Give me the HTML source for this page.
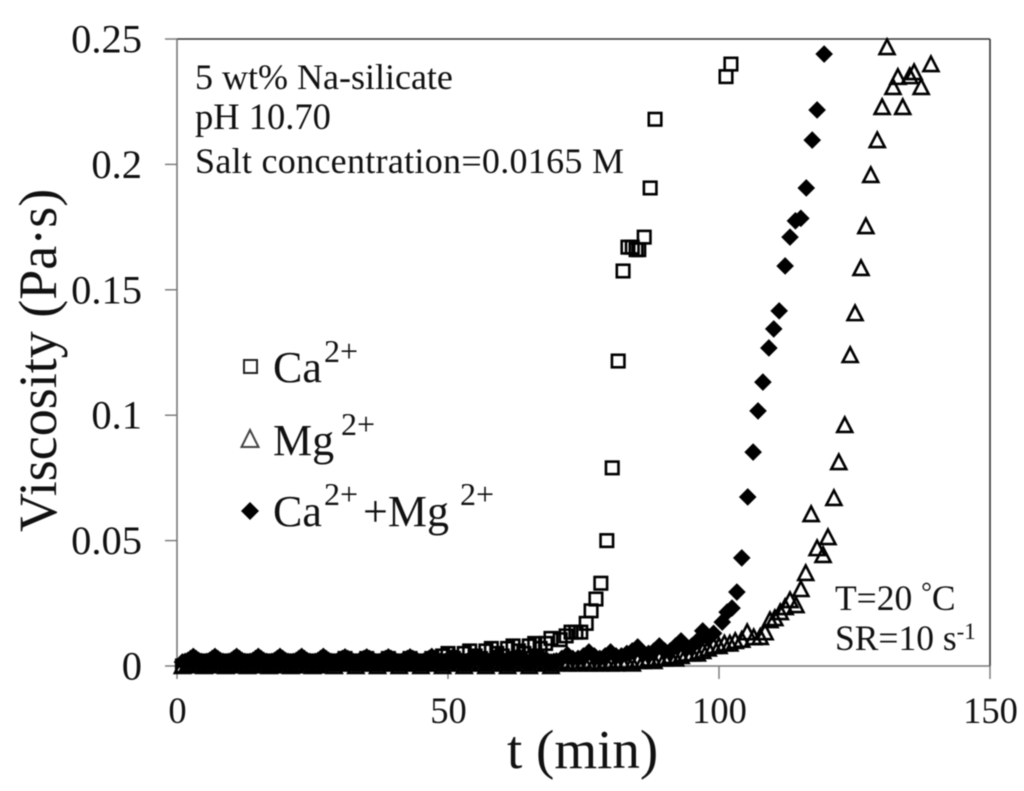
<!DOCTYPE html>
<html lang="en">
<head>
<meta charset="utf-8">
<title>Viscosity vs time</title>
<style>
html,body{margin:0;padding:0;background:#fff;width:1024px;height:791px;overflow:hidden}
svg{display:block;filter:blur(0.4px)}
text{font-family:"Liberation Serif",serif;fill:#111}
</style>
</head>
<body>
<svg id="chart" width="1024" height="791" viewBox="0 0 1024 791" xmlns="http://www.w3.org/2000/svg">
  <rect width="1024" height="791" fill="#fff"/>
  <g id="axes"></g>
  <g id="marks"></g>
  <g font-size="36">
    <text x="195" y="89">5 wt% Na-silicate</text>
    <text x="195" y="129" font-size="36.5">pH 10.70</text>
    <text x="195" y="173" textLength="429">Salt concentration=0.0165 M</text>
  </g>
  <g font-size="35.5">
    <text x="835" y="610">T=20 <tspan font-size="27" dy="-9">°</tspan><tspan dy="9">C</tspan></text>
    <text x="835" y="650">SR=10 s<tspan font-size="23" dy="-11">-1</tspan></text>
  </g>
  <g>
    <rect x="244" y="360" width="13" height="13" fill="none" stroke="#222" stroke-width="2"/>
    <text x="273" y="382" font-size="44">Ca</text>
    <text x="324" y="362" font-size="32">2+</text>
    <path d="M250 430 L258.500 447 L241.500 447 Z" fill="none" stroke="#444" stroke-width="2"/>
    <text x="273" y="455" font-size="44">Mg</text>
    <text x="341" y="435" font-size="32">2+</text>
    <path d="M250 502 L259 511 L250 520 L241 511 Z" fill="#000"/>
    <text x="273" y="526" font-size="44">Ca</text>
    <text x="324" y="505" font-size="32">2+</text>
    <text x="363" y="526" font-size="44">+Mg</text>
    <text x="460" y="505" font-size="32">2+</text>
  </g>
  <text x="507" y="768" font-size="55">t (min)</text>
  <text transform="translate(56,532) rotate(-90)" font-size="54">Viscosity (Pa·s)</text>
</svg>
<script>
const xTicks = [0, 50, 100, 150];
const yTicks = [0, 0.05, 0.1, 0.15, 0.2, 0.25];
const yTickLabels = ["0", "0.05", "0.1", "0.15", "0.2", "0.25"];

const caTime = [1,2,3,4,5,6,7,8,9,10,11,12,13,14,15,16,17,18,19,20,21,22,23,24,25,26,27,28,29,30,31,32,33,34,35,36,37,38,39,40,41,42,43,44,45,46,47,48,49,50,51,52,53,54,55,56,57,58,59,60,61,62,63,64,65,66,67,68,69,70.7,71.8,72.7,73.6,74.5,75.5,76.4,77.3,78.2,79.3,80.3,81.4,82.3,83.2,84,84.7,85.2,86.2,87.3,88.2,101.3,102.2];
const caVisc = [0,0,0.002,0.002,0,0,0.002,0.002,0,0,0.002,0.002,0,0,0.002,0.002,0,0,0.002,0.002,0,0,0.002,0.002,0,0,0.002,0.002,0.001,0.001,0.003,0.002,0.001,0.001,0.003,0.002,0.001,0.001,0.003,0.002,0.001,0.001,0.003,0.002,0.001,0.001,0.003,0.002,0.004,0.005,0.003,0.002,0.005,0.006,0.004,0.003,0.006,0.007,0.005,0.004,0.007,0.008,0.006,0.005,0.008,0.009,0.007,0.009,0.011,0.0105,0.012,0.0135,0.0135,0.0135,0.017,0.022,0.0267,0.033,0.05,0.079,0.1216,0.1575,0.167,0.167,0.166,0.166,0.171,0.1906,0.218,0.235,0.24];

const mgTime = [1,2,3,4,5,6,7,8,9,10,11,12,13,14,15,16,17,18,19,20,21,22,23,24,25,26,27,28,29,30,31,32,33,34,35,36,37,38,39,40,41,42,43,44,45,46,47,48,49,50,51,52,53,54,55,56,57,58,59,60,61,62,63,64,65,66,67,68,69,70,71,72,73,74,75,76,77,78,79,80,81,82,83,84,85,86,87,88,89,90,91,92,93,94,95,96,97,98,99,100,101,102,103,104.2,105.2,106.4,107.6,108.5,109.4,110.3,111.3,112.2,113.1,114.2,115.1,116,117,118.1,119.2,120.1,121.2,122.1,123.2,124.2,125.1,126.2,127.1,128,129.2,130.1,131,132.1,133,133.9,135.2,136,137.3,139.1];
const mgVisc = [0,0.001,0.002,0.001,0,0.001,0.002,0.001,0,0.001,0.002,0.001,0,0.001,0.002,0.001,0,0.001,0.002,0.001,0,0.001,0.002,0.001,0,0.001,0.002,0.001,0,0.001,0.002,0.001,0,0.001,0.002,0.001,0,0.001,0.002,0.001,0,0.001,0.002,0.001,0,0.001,0.002,0.001,0,0.001,0.002,0.001,0,0.001,0.002,0.001,0,0.001,0.002,0.001,0,0.001,0.002,0.001,0,0.001,0.002,0.001,0,0.001,0.002,0.001,0.001,0.001,0.002,0.001,0.001,0.001,0.002,0.001,0.001,0.002,0.002,0.001,0.002,0.002,0.003,0.002,0.003,0.003,0.004,0.003,0.004,0.005,0.005,0.005,0.006,0.007,0.008,0.008,0.009,0.009,0.010,0.0105,0.0135,0.0115,0.0116,0.0135,0.0183,0.0191,0.0215,0.0235,0.0263,0.0243,0.0307,0.0371,0.0606,0.047,0.0443,0.0514,0.067,0.0813,0.0961,0.124,0.1407,0.1587,0.1754,0.1958,0.2097,0.2229,0.2468,0.2309,0.2349,0.2229,0.2352,0.2368,0.2309,0.24];

const mixTime = [1,1.5,2,2.5,3,3.5,4,4.5,5,5.5,6,6.5,7,7.5,8,8.5,9,9.5,10,10.5,11,11.5,12,12.5,13,13.5,14,14.5,15,15.5,16,16.5,17,17.5,18,18.5,19,19.5,20,20.5,21,21.5,22,22.5,23,23.5,24,24.5,25,25.5,26,26.5,27,27.5,28,28.5,29,29.5,30,30.5,31,31.5,32,32.5,33,33.5,34,34.5,35,35.5,36,36.5,37,37.5,38,38.5,39,39.5,40,40.5,41,41.5,42,42.5,43,43.5,44,44.5,45,45.5,46,46.5,47,47.5,48,48.5,49,49.5,50,50.5,51,51.5,52,52.5,53,53.5,54,54.5,55,55.5,56,56.5,57,57.5,58,58.5,59,59.5,60,60.5,61,61.5,62,62.5,63,63.5,64,64.5,65,65.5,66,66.5,67,67.5,68,68.5,69,69.5,70,71,72,73,74,75,76,77,78,79,80,81,82,83,84,85,86,87,88,89,90,91,92,93,94,95,96,97,98,99,100.6,101.5,102.4,103.3,104.2,105.3,106.3,107.2,108.1,109.2,110.1,111.1,112.2,113.1,114.1,115.1,116.1,117.2,118.1,119.4];
const mixVisc = [
0.0016,0.0018,0.0022,0.003,0.0038,0.003,0.0022,0.0018,
0.0016,0.0018,0.0022,0.003,0.0038,0.003,0.0022,0.0018,
0.0016,0.0018,0.0022,0.003,0.0038,0.003,0.0022,0.0018,
0.0016,0.0018,0.0022,0.003,0.0038,0.003,0.0022,0.0018,
0.0016,0.0018,0.0022,0.003,0.0038,0.003,0.0022,0.0018,
0.0016,0.0018,0.0022,0.003,0.0038,0.003,0.0022,0.0018,
0.0016,0.0018,0.0022,0.003,0.0038,0.003,0.0022,0.0018,
0.0016,0.0018,0.0022,0.003,0.0036,0.003,0.0022,0.0018,
0.0016,0.0018,0.0022,0.003,0.0036,0.003,0.0022,0.0018,
0.0016,0.0018,0.0022,0.003,0.0036,0.003,0.0022,0.0018,
0.0016,0.0018,0.0022,0.003,0.0036,0.003,0.0022,0.0018,
0.0016,0.0018,0.0022,0.003,0.0038,0.003,0.0022,0.0018,
0.0016,0.0018,0.0022,0.003,0.0038,0.003,0.0022,0.0018,
0.0016,0.0018,0.0022,0.003,0.0038,0.003,0.0022,0.0018,
0.0016,0.0018,0.0022,0.003,0.0038,0.003,0.0022,0.0018,
0.0016,0.0018,0.0022,0.003,0.004,0.003,0.0022,0.0018,
0.0016,0.0018,0.0022,0.003,0.004,0.003,0.0022,0.0018,
0.0016,0.0018,
0.002,0.003,0.0045,0.003,0.003,0.004,0.0056,0.004,0.003,0.004,0.0056,0.004,0.004,0.005,0.006,0.0076,0.005,0.005,0.006,0.008,0.006,0.006,0.008,0.01,0.007,0.008,0.01,0.014,0.011,0.013,
0.0175,0.0215,0.0231,0.0295,0.0431,0.0674,0.0853,0.1017,0.1132,0.1268,0.1344,0.1416,0.1595,0.171,0.1775,0.1785,0.1906,0.2097,0.2217,0.244];

const axes = document.getElementById('axes');
const marks = document.getElementById('marks');
const NS = 'http://www.w3.org/2000/svg';

function xScale(t) { return 177 + t * (813 / 150); }
function yScale(v) { return 666 - v * (627 / 0.25); }

function addLine(x1, y1, x2, y2, color, width, name) {
  const l = document.createElementNS(NS, 'line');
  l.setAttribute('x1', x1);
  l.setAttribute('y1', y1);
  l.setAttribute('x2', x2);
  l.setAttribute('y2', y2);
  l.setAttribute('stroke', color);
  l.setAttribute('stroke-width', width);
  
  
  axes.appendChild(l);
}

function addLabel(x, y, str, size, anchor) {
  const t = document.createElementNS(NS, 'text');
  t.setAttribute('x', x);
  t.setAttribute('y', y);
  t.setAttribute('font-size', size);
  t.setAttribute('text-anchor', anchor);
  
  
  t.textContent = str;
  axes.appendChild(t);
}

addLine(177, 39, 990, 39, '#333', 1.6, 'plot-border-top');
addLine(990, 39, 990, 666, '#333', 1.6, 'plot-border-right');
addLine(177, 39, 177, 666, '#777', 1.6, 'y-axis-line');
addLine(177, 666, 990, 666, '#777', 1.6, 'x-axis-line');

xTicks.forEach(function (t) {
  addLine(xScale(t), 666, xScale(t), 679, '#777', 1.4, 'x-tick');
  addLabel(xScale(t) + 0.5, 723, String(t), 36.5, 'middle');
});
yTicks.forEach(function (v, i) {
  addLine(165, yScale(v), 177, yScale(v), '#777', 1.4, 'y-tick');
  addLabel(142, yScale(v) + 13.5, yTickLabels[i], 40.5, 'end');
});

function square(x, y) {
  const m = document.createElementNS(NS, 'rect');
  m.setAttribute('x', x - 6.25);
  m.setAttribute('y', y - 6.25);
  m.setAttribute('width', 12.5);
  m.setAttribute('height', 12.5);
  m.setAttribute('fill', 'none');
  m.setAttribute('stroke', '#000');
  m.setAttribute('stroke-width', 2.6);
  
  
  marks.appendChild(m);
}
function triangle(x, y) {
  const m = document.createElementNS(NS, 'path');
  m.setAttribute('d', 'M' + x + ' ' + (y - 7.500) + ' L' + (x + 7.500) + ' ' + (y + 7) + ' L' + (x - 7.500) + ' ' + (y + 7) + ' Z');
  m.setAttribute('fill', 'none');
  m.setAttribute('stroke', '#000');
  m.setAttribute('stroke-width', 2.6);
  
  
  marks.appendChild(m);
}
function diamond(x, y) {
  const m = document.createElementNS(NS, 'path');
  m.setAttribute('d', 'M' + x + ' ' + (y - 8.800) + ' L' + (x + 8.800) + ' ' + y + ' L' + x + ' ' + (y + 8.800) + ' L' + (x - 8.800) + ' ' + y + ' Z');
  m.setAttribute('fill', '#000');
  
  
  marks.appendChild(m);
}

caTime.forEach(function (t, i) { square(xScale(t), yScale(caVisc[i])); });
mgTime.forEach(function (t, i) { triangle(xScale(t), yScale(mgVisc[i])); });
mixTime.forEach(function (t, i) { diamond(xScale(t), yScale(mixVisc[i])); });
</script>
</body>
</html>
